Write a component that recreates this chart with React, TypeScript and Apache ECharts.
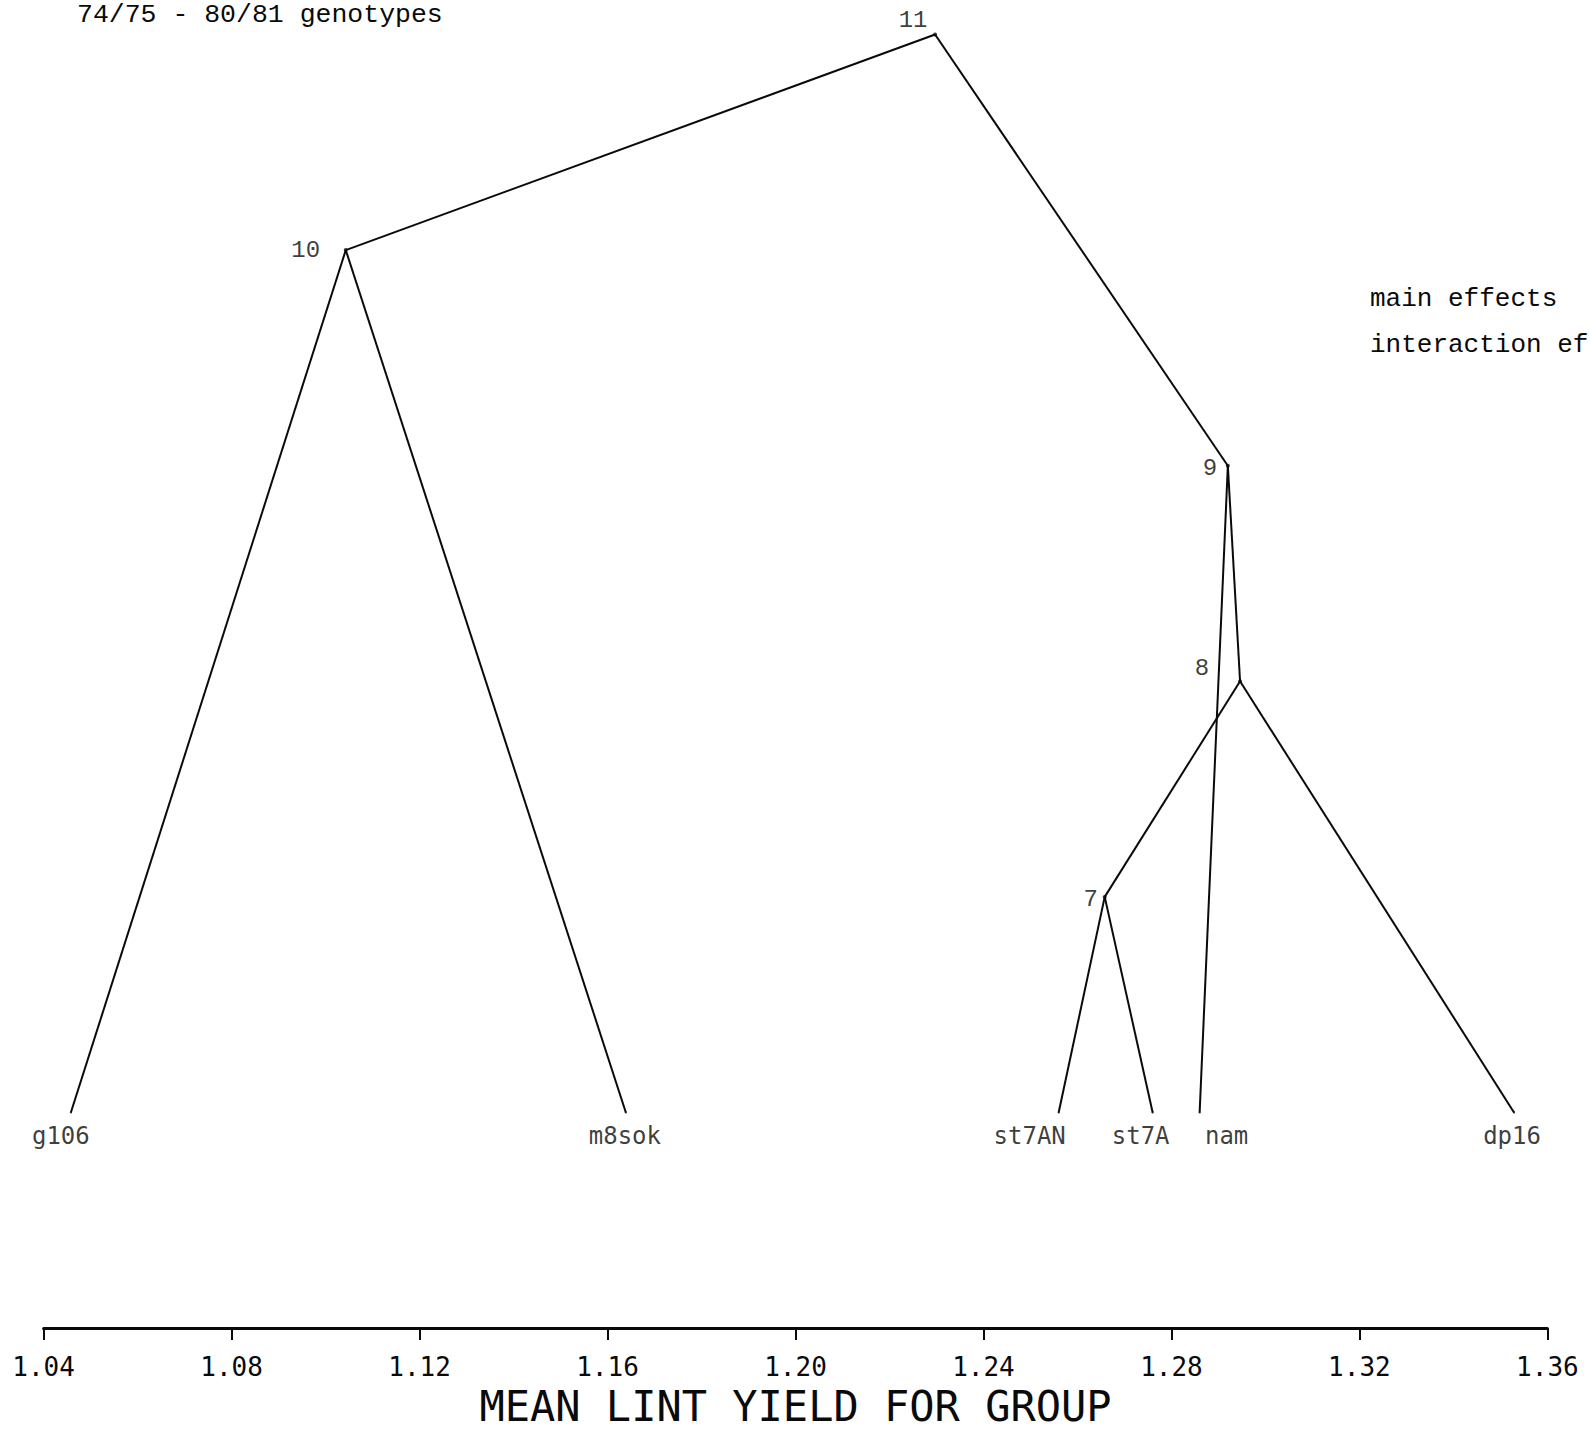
import React, { useEffect, useRef } from "react";
import * as echarts from "echarts";

// Genotypes (leaves) and their mean lint yield
const leafNames = ["g106", "m8sok", "st7AN", "st7A", "nam", "dp16"];
const leafYield = [1.0458, 1.1639, 1.256, 1.276, 1.286, 1.3529];

// Merge steps: group number, mean yield of the merged group, merge level and the two joined members
const nodeNames = ["7", "8", "9", "10", "11"];
const nodeYield = [1.2658, 1.2946, 1.292, 1.1043, 1.2297];
const nodeLevel = [1, 2, 3, 4, 5];
const nodeChildren = [
  ["st7AN", "st7A"],
  ["7", "dp16"],
  ["8", "nam"],
  ["g106", "m8sok"],
  ["10", "9"],
];

// Axis range
const xMin = 1.04;
const xMax = 1.36;
const xStep = 0.04;

const titleText = "74/75 - 80/81 genotypes";
const noteLines = ["main effects", "interaction ef"];
const axisTitle = "MEAN LINT YIELD FOR GROUP";

// Label placement around each point
const leafLabelOffset: Record<string, [number, number]> = {
  g106: [-10, 23],
  m8sok: [-1, 23],
  st7AN: [-29, 23],
  st7A: [-12, 23],
  nam: [27, 23],
  dp16: [-2, 23],
};
const nodeLabelOffset: Record<string, [number, number]> = {
  "7": [-14, 3],
  "8": [-38, -13],
  "9": [-18, 3],
  "10": [-40, 0],
  "11": [-22, -14],
};

const INK = "#0a0a0a";
const MONO = "'DejaVu Sans Mono', monospace";
const TYPE = "'Liberation Mono', 'DejaVu Sans Mono', monospace";

function buildOption() {
  const pos: Record<string, [number, number]> = {};
  leafNames.forEach((n, i) => (pos[n] = [leafYield[i], 0]));
  nodeNames.forEach((n, i) => (pos[n] = [nodeYield[i], nodeLevel[i]]));

  const edges: { coords: [number, number][] }[] = [];
  nodeNames.forEach((n, i) => {
    nodeChildren[i].forEach((c) => {
      edges.push({ coords: [pos[n], pos[c]] });
    });
  });

  const leafData = leafNames.map((n, i) => ({
    name: n,
    value: [leafYield[i], 0],
    label: { offset: leafLabelOffset[n] },
  }));
  const nodeData = nodeNames.map((n, i) => ({
    name: n,
    value: [nodeYield[i], nodeLevel[i]],
    label: { offset: nodeLabelOffset[n] },
  }));

  return {
    animation: false,
    backgroundColor: "#ffffff",
    grid: { left: 43.6, right: 42.6, top: 34.5, bottom: 96.7, containLabel: false },
    xAxis: {
      type: "value",
      min: xMin,
      max: xMax,
      interval: xStep,
      name: axisTitle,
      nameLocation: "middle",
      nameGap: 54,
      nameTextStyle: { fontFamily: MONO, fontSize: 42, color: INK },
      axisLine: { show: true, onZero: false, lineStyle: { color: INK, width: 3 } },
      axisTick: { show: true, inside: false, length: 12, lineStyle: { color: INK, width: 2 } },
      axisLabel: {
        margin: 26,
        fontFamily: MONO,
        fontSize: 26,
        color: INK,
        formatter: (v: number) => v.toFixed(2),
      },
      splitLine: { show: false },
    },
    yAxis: {
      type: "value",
      min: -1,
      max: 5,
      show: false,
      splitLine: { show: false },
    },
    graphic: [
      {
        type: "text",
        left: 77,
        top: 1,
        style: { text: titleText, font: `26.5px ${TYPE}`, fill: INK },
      },
      {
        type: "text",
        left: 1370,
        top: 286,
        style: { text: noteLines[0], font: `26px ${TYPE}`, fill: INK },
      },
      {
        type: "text",
        left: 1370,
        top: 332,
        style: { text: noteLines[1], font: `26px ${TYPE}`, fill: INK },
      },
    ],
    series: [
      {
        type: "lines",
        coordinateSystem: "cartesian2d",
        polyline: false,
        silent: true,
        lineStyle: { color: INK, width: 2, opacity: 1 },
        data: edges,
      },
      {
        type: "scatter",
        symbolSize: 2,
        itemStyle: { color: INK },
        silent: true,
        label: {
          show: true,
          position: "inside",
          formatter: "{b}",
          fontFamily: MONO,
          fontSize: 24,
          color: INK,
        },
        data: leafData,
      },
      {
        type: "scatter",
        symbolSize: 4,
        itemStyle: { color: INK },
        silent: true,
        label: {
          show: true,
          position: "inside",
          formatter: "{b}",
          fontFamily: TYPE,
          fontSize: 24,
          color: INK,
        },
        data: nodeData,
      },
    ],
  };
}

export default function App() {
  const ref = useRef<HTMLDivElement>(null);
  useEffect(() => {
    if (!ref.current) return;
    const chart = echarts.init(ref.current, null, { renderer: "svg" });
    chart.setOption(buildOption() as any);
    return () => chart.dispose();
  }, []);
  return (
    <div
      ref={ref}
      style={{ position: "fixed", left: 0, top: 0, width: 1590, height: 1432, background: "#fff" }}
    />
  );
}
